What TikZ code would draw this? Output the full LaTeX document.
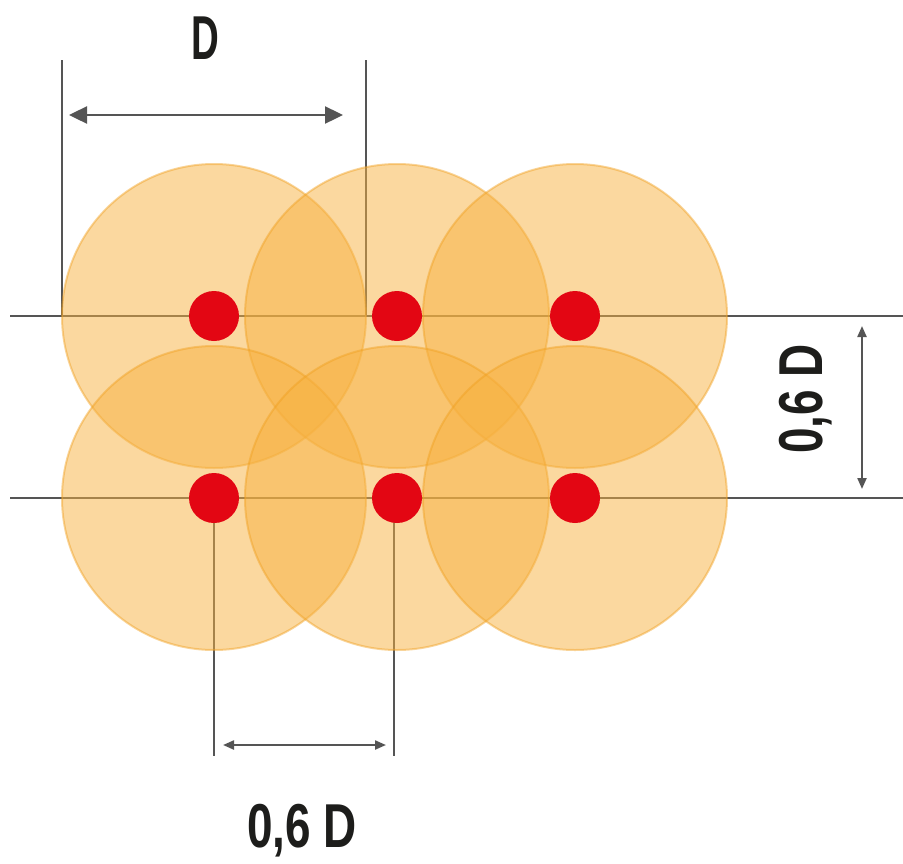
\documentclass[tikz,border=0pt]{standalone}
\usepackage{fontspec}
\setmainfont{Liberation Sans}
\usetikzlibrary{arrows.meta}
\definecolor{disc}{HTML}{F7B140}
\definecolor{discedge}{HTML}{F0A020}
\definecolor{dotred}{HTML}{E30613}
\definecolor{lgray}{HTML}{555555}
\definecolor{txt}{HTML}{1D1D1B}
\tikzset{
  x=1pt, y=-1pt,
  disk/.style={circle, minimum size=304pt, inner sep=0pt, fill=disc, fill opacity=0.5, draw=discedge, draw opacity=0.45, line width=2pt},
  reddot/.style={circle, minimum size=50pt, inner sep=0pt, fill=dotred},
  guide/.style={draw=lgray, line width=2.4pt},
  dimbig/.style={draw=lgray, line width=2.4pt, {Triangle[length=18pt,width=17pt]}-{Triangle[length=18pt,width=17pt]}},
  dimsmall/.style={draw=lgray, line width=2.2pt, {Triangle[length=11pt,width=9pt]}-{Triangle[length=11pt,width=9pt]}},
  lab/.style={font=\bfseries\fontsize{62}{62}\selectfont, text=txt, inner sep=0pt}
}
\begin{document}
\begin{tikzpicture}
\useasboundingbox (0,0) rectangle (903,863);
% guide lines
\coordinate (h1a) at (10,316); \coordinate (h1b) at (903,316);
\coordinate (h2a) at (10,498); \coordinate (h2b) at (903,498);
\coordinate (v1a) at (62,60); \coordinate (v1b) at (62,316);
\coordinate (v2a) at (366,60); \coordinate (v2b) at (366,316);
\coordinate (v3a) at (214,498); \coordinate (v3b) at (214,756);
\coordinate (v4a) at (394,498); \coordinate (v4b) at (394,756);
\draw[guide] (h1a) -- (h1b);
\draw[guide] (h2a) -- (h2b);
\draw[guide] (v1a) -- (v1b);
\draw[guide] (v2a) -- (v2b);
\draw[guide] (v3a) -- (v3b);
\draw[guide] (v4a) -- (v4b);
% discs
\node[disk] (c1) at (214,316) {};
\node[disk] (c2) at (397,316) {};
\node[disk] (c3) at (575,316) {};
\node[disk] (c4) at (214,498) {};
\node[disk] (c5) at (397,498) {};
\node[disk] (c6) at (575,498) {};
% red dots
\node[reddot] (d1) at (214,316) {};
\node[reddot] (d2) at (397,316) {};
\node[reddot] (d3) at (575,316) {};
\node[reddot] (d4) at (214,498) {};
\node[reddot] (d5) at (397,498) {};
\node[reddot] (d6) at (575,498) {};
% dimension arrows
\coordinate (a1a) at (69,115); \coordinate (a1b) at (343,115);
\draw[dimbig] (a1a) -- (a1b);
\coordinate (a2a) at (223,745); \coordinate (a2b) at (386,745);
\draw[dimsmall] (a2a) -- (a2b);
\coordinate (a3a) at (862,326); \coordinate (a3b) at (862,489);
\draw[dimsmall] (a3a) -- (a3b);
% labels
\node[lab] (tD) at (205,38) {\scalebox{0.62}[1]{D}};
\node[lab] (tB) at (302,831) {\scalebox{0.74}[1]{0,6 D}};
\node[lab, rotate=90] (tR) at (806,399) {\scalebox{0.74}[1]{0,6 D}};
\end{tikzpicture}
\end{document}
